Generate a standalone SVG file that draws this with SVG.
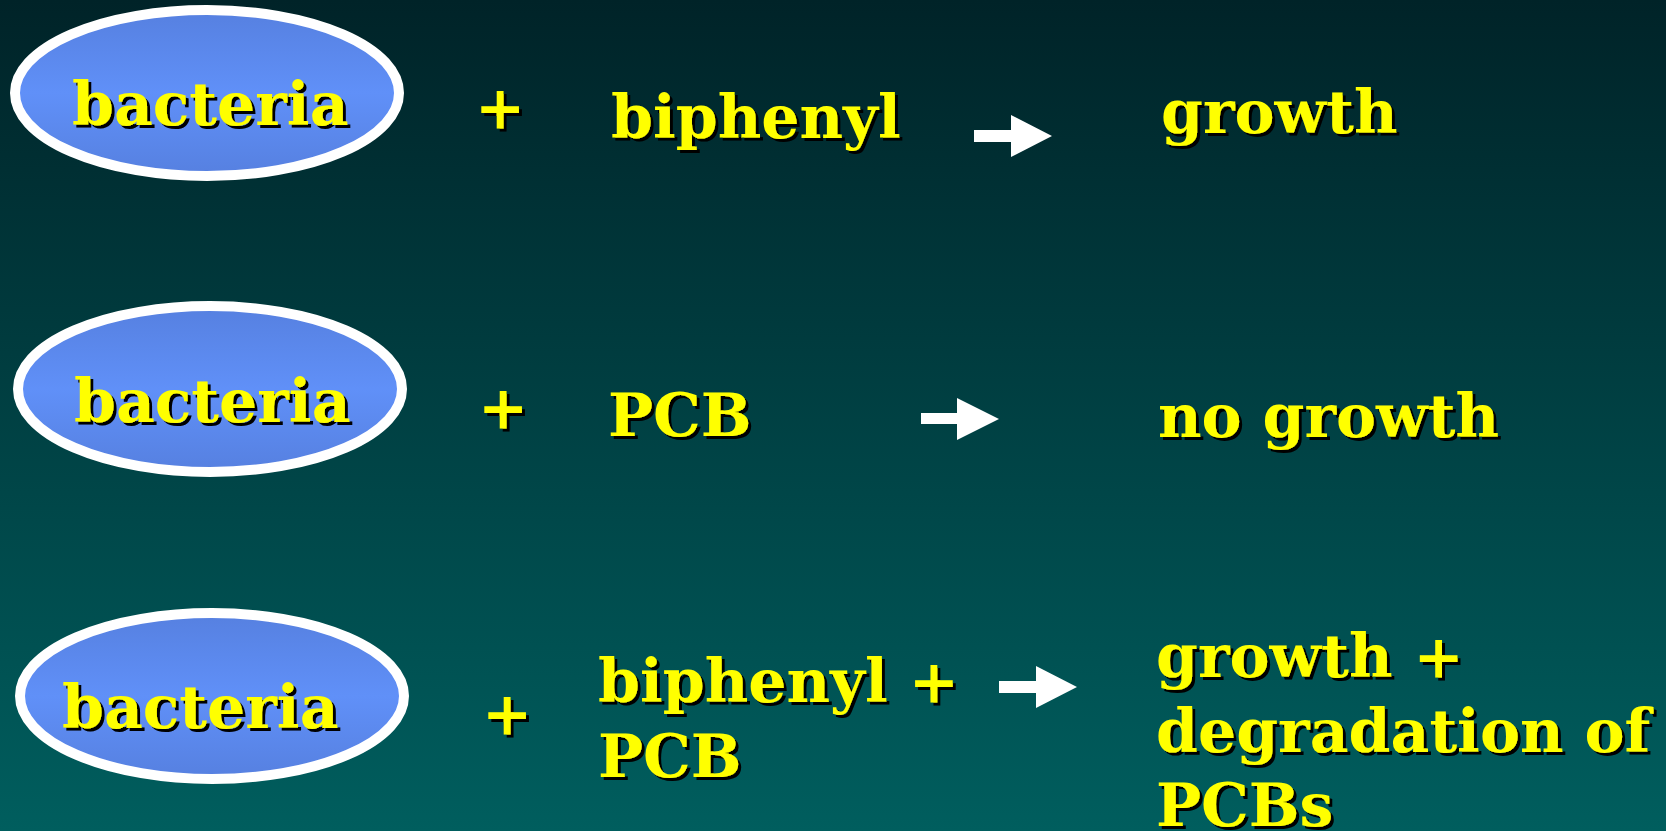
<svg xmlns="http://www.w3.org/2000/svg" width="1666" height="831" viewBox="0 0 1666 831">
<defs>
<linearGradient id="bg" x1="0" y1="0" x2="0" y2="1">
<stop offset="0" stop-color="#002328"/>
<stop offset="1" stop-color="#005e5e"/>
</linearGradient>
<linearGradient id="ell" x1="0" y1="0" x2="0" y2="1">
<stop offset="0" stop-color="#5680e0"/>
<stop offset="0.5" stop-color="#6090f8"/>
<stop offset="1" stop-color="#5680e0"/>
</linearGradient>
<filter id="sh" x="-5%" y="-10%" width="110%" height="130%">
<feOffset dx="3" dy="3" in="SourceAlpha" result="o"/>
<feFlood flood-color="#000"/>
<feComposite in2="o" operator="in" result="s"/>
<feMerge><feMergeNode in="s"/><feMergeNode in="SourceGraphic"/></feMerge>
</filter>
</defs>
<style>
.t{font-family:"DejaVu Serif","Liberation Serif",serif;font-weight:bold;font-size:60px;fill:#ffff00;filter:url(#sh)}
.e{fill:url(#ell);stroke:#fff;stroke-width:10}
.a{fill:#fff}
</style>
<rect width="1666" height="831" fill="url(#bg)"/>
<g id="row1">
<g id="bacteria1"><ellipse class="e" cx="207" cy="93" rx="192" ry="83"/><text class="t" x="72" y="125">bacteria</text></g>
<text class="t" x="475" y="128">+</text>
<text class="t" id="biphenyl1" x="611" y="138">biphenyl</text>
<text class="t" id="growth1" x="1161" y="133">growth</text>
</g>
<g id="row2">
<g id="bacteria2"><ellipse class="e" cx="210" cy="389" rx="192" ry="83"/><text class="t" x="74" y="422">bacteria</text></g>
<text class="t" x="478" y="428">+</text>
<text class="t" id="pcb2" x="608" y="436">PCB</text>
<text class="t" id="nogrowth2" x="1158" y="437">no growth</text>
</g>
<g id="row3">
<g id="bacteria3"><ellipse class="e" cx="212" cy="696" rx="192" ry="83"/><text class="t" x="62" y="728">bacteria</text></g>
<text class="t" x="482" y="734">+</text>
<text class="t" id="bp3"><tspan x="598" y="702">biphenyl +</tspan><tspan x="598" y="777">PCB</tspan></text>
<text class="t" id="res3"><tspan x="1156" y="677">growth +</tspan><tspan x="1156" y="752">degradation of</tspan><tspan x="1156" y="826">PCBs</tspan></text>
</g>
<g id="connectors">
<polygon class="a" points="974,130 1011,130 1011,115 1052,136 1011,157 1011,142 974,142"/>
<polygon class="a" points="921,413 957,413 957,398 999,419 957,440 957,424 921,424"/>
<polygon class="a" points="999,681 1036,681 1036,666 1077,687 1036,708 1036,693 999,693"/>
</g>
</svg>
